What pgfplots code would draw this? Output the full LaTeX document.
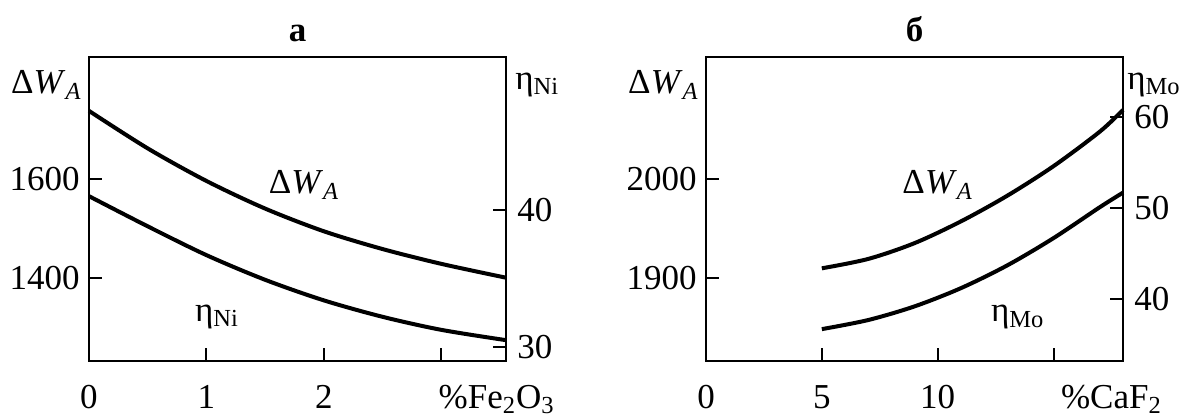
\documentclass[border=0pt]{standalone}
\usepackage{fontspec}
\setmainfont{Liberation Serif}
\usepackage{pgfplots}
\pgfplotsset{compat=1.18}

% 1 px of the reference = 0.5pt
\pgfplotsset{
  panel/.style={
    scale only axis, width=208.5pt, height=152pt,
    axis line style={line width=1pt},
    every tick/.style={line width=1pt, black},
    major tick length=6.5pt,
    tick align=inside,
    /pgf/number format/assume math mode=true,
    /pgf/number format/1000 sep={},
    clip=false,
    xtick pos=bottom,
    xticklabel style={inner sep=0pt, anchor=north, yshift=-12pt},
  },
  leftax/.style={ytick pos=left, yticklabel style={inner sep=0pt, anchor=east, xshift=-4.5pt}},
  rightax/.style={ytick pos=right, yticklabel style={inner sep=0pt, anchor=west, xshift=5.5pt},
    xtick=\empty, axis line style={draw=none}},
  curve/.style={black, line width=2pt, smooth, no markers},
}
\tikzset{lab/.style={inner sep=0pt}}
\newcommand{\dW}{Δ\textit{W}\textsubscript{\textit{A}}}

\begin{document}
\fontsize{17.5}{21}\selectfont
\begin{tikzpicture}
\useasboundingbox (-44.5pt,-28pt) rectangle (546.5pt,180.5pt);

% ---- panel а ----
\begin{axis}[panel, leftax, at={(0,0)}, anchor=south west,
  xmin=0, xmax=3.55, ymin=1231.2, ymax=1847.2,
  xtick={0,1,2,3}, xticklabels={0,1,2,{}},
  extra x ticks={3.47}, extra x tick labels={\%Fe\textsubscript{2}O\textsubscript{3}},
  extra x tick style={major tick length=0pt},
  ytick={1400,1600}]
\addplot[curve] coordinates {
  (0,1738) (0.5,1662) (1,1596) (1.5,1540) (2,1494) (2.5,1458) (3,1428) (3.55,1400)};
\node[lab] at (axis cs:1.83,1588) {\dW};
\node[lab, anchor=east] at (rel axis cs:0,0.908) [xshift=-3.5pt] {\dW};
\node[anchor=base, font=\bfseries] at (rel axis cs:0.5,1) [yshift=7.5pt] {а};
\end{axis}
\begin{axis}[panel, rightax, at={(0,0)}, anchor=south west,
  xmin=0, xmax=3.55, ymin=28.98, ymax=51.15,
  ytick={30,40}]
\addplot[curve] coordinates {
  (0,41.0) (0.5,38.8) (1,36.7) (1.5,34.9) (2,33.4) (2.5,32.2) (3,31.25) (3.55,30.5)};
\node[lab] at (axis cs:1.09,32.2) {η\textsubscript{Ni}};
\node[lab, anchor=west] at (rel axis cs:1,0.908) [xshift=4.5pt] {η\textsubscript{Ni}};
\end{axis}

% ---- panel б ----
\begin{axis}[panel, leftax, at={(308.5pt,0)}, anchor=south west,
  xmin=0, xmax=18, ymin=1815.6, ymax=2123.6,
  xtick={0,5,10,15}, xticklabels={0,5,10,{}},
  extra x ticks={17.5}, extra x tick labels={\%CaF\textsubscript{2}},
  extra x tick style={major tick length=0pt},
  ytick={1900,2000}]
\addplot[curve] coordinates {
  (5,1909.5) (7,1919) (9,1935) (11,1957) (13,1983) (15,2013) (17,2048) (18,2070)};
\node[lab] at (axis cs:10.0,1994) {\dW};
\node[lab, anchor=east] at (rel axis cs:0,0.908) [xshift=-3.5pt] {\dW};
\node[anchor=base, font=\bfseries] at (rel axis cs:0.5,1) [yshift=7.5pt] {б};
\end{axis}
\begin{axis}[panel, rightax, at={(308.5pt,0)}, anchor=south west,
  xmin=0, xmax=18, ymin=33.2, ymax=66.6,
  ytick={40,50,60}]
\addplot[curve] coordinates {
  (5,36.7) (7,37.7) (9,39.2) (11,41.2) (13,43.7) (15,46.7) (17,50.1) (18,51.7)};
\node[lab] at (axis cs:13.46,38.0) {η\textsubscript{Mo}};
\node[lab, anchor=west] at (rel axis cs:1,0.908) [xshift=2pt] {η\textsubscript{Mo}};
\end{axis}
\end{tikzpicture}
\end{document}
